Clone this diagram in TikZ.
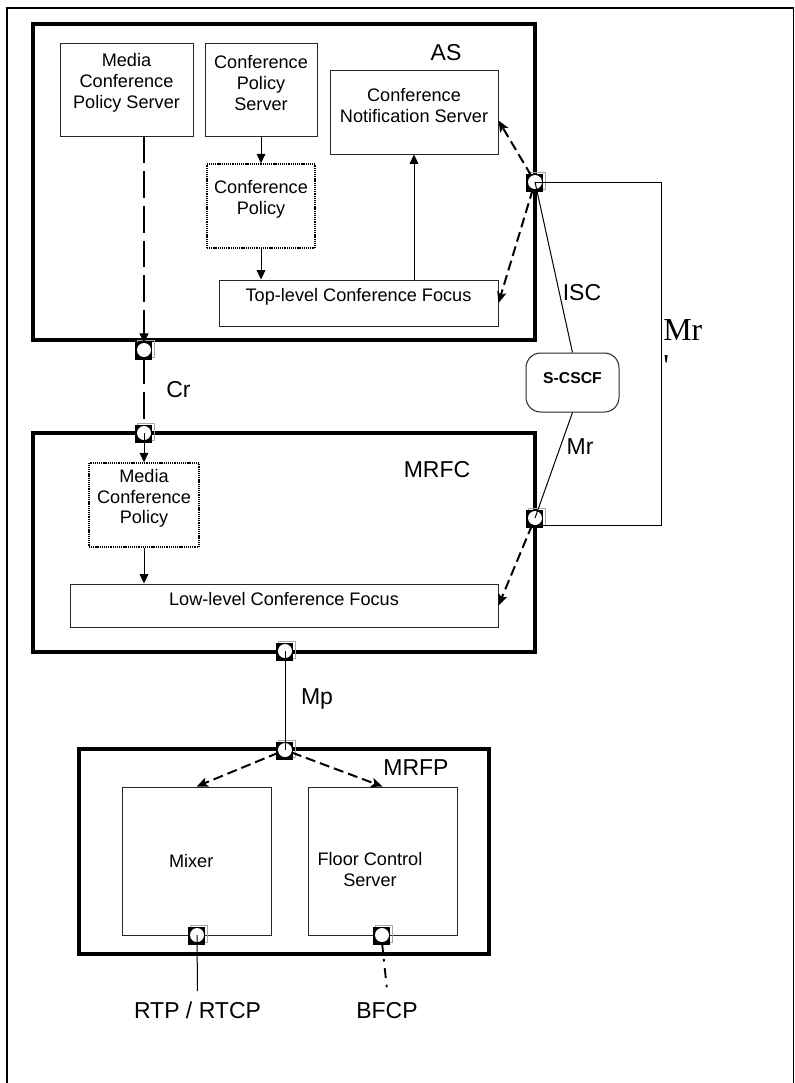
\documentclass[tikz,border=0pt]{standalone}
\usepackage{fontspec}
\setmainfont{Liberation Sans}
\newfontfamily\timesf{Liberation Serif}
\usetikzlibrary{arrows.meta,fit,calc}
\newcommand\boxfont{\fontsize{13.6}{15.6}\selectfont}
\newcommand\lblfont{\fontsize{17.25}{20}\selectfont}
\tikzset{
  box/.style={draw=black!85, line width=0.75pt, inner sep=0pt, font=\boxfont, align=center},
  dotbox/.style={box, draw=black, line width=1.2pt, dash pattern=on 0.8pt off 0.6pt},
  bigbox/.style={draw=black, line width=2.5pt, inner sep=0pt},
  lbl/.style={font=\lblfont, inner sep=0pt, anchor=base},
  port/.style={circle, fill=white, inner sep=0pt, minimum size=10.5pt},
  thinline/.style={line width=0.75pt},
  arr/.style={thinline, -{Triangle[length=7pt,width=6.5pt]}},
  dasharr/.style={line width=1.5pt, dash pattern=on 7.5pt off 3.75pt, -{Stealth[length=8.5pt,width=7pt,inset=2pt]}},
  longdash/.style={line width=1.8pt, dash pattern=on 20pt off 6pt},
  dashdotline/.style={line width=1.4pt, dash pattern=on 7.5pt off 5pt on 2pt off 5pt},
}
\newcommand\portg[2]{%
  \coordinate (#1-c) at (#2);
  \draw[gray!70, line width=0.6pt] ($(#1-c)+(-7,-10)$) rectangle ($(#1-c)+(10,7)$);
  \fill[black] ($(#1-c)+(-9.5,-8)$) rectangle ($(#1-c)+(8,9.5)$);
  \node[port] (#1) at (#1-c) {};
}
\begin{document}
\begin{tikzpicture}[x=0.75pt,y=-0.75pt]
\clip (0,0) rectangle (795,1083);
\fill[white] (0,0) rectangle (795,1083);
\draw[line width=1pt] (7,8) rectangle (793.5,1100);

% AS
\node[bigbox, fit={(33,24) (535,340)}] (as) {};
\node[lbl] (aslbl) at (446,60) {AS};
\node[box, fit={(60,43) (193,136)}] (mcps) {Media\\Conference\\Policy Server};
\node[box, fit={(205,43) (317,136)}] (cps) {Conference\\Policy\\Server};
\node[box, fit={(330,70) (498,154)}] (cns) {Conference\\Notification Server};
\node[dotbox, fit={(207,164) (315,248)}] (cp) {Conference\\Policy};
\node[box, fit={(219,280) (498,326)}] (tlcf) {Top-level Conference Focus};

% MRFC
\node[bigbox, fit={(33,433) (535,652)}] (mrfc) {};
\node[lbl] (mrfclbl) at (437,477) {MRFC};
\node[dotbox, fit={(89,463) (199,547)}] (mcp) {Media\\Conference\\Policy};
\node[box, fit={(70,584) (498,627)}] (llcf) {Low-level Conference Focus};

% S-CSCF
\node[box, rounded corners=11pt, fit={(526,353) (619,412)}, font=\fontsize{11.8}{13}\selectfont\bfseries] (scscf) {\raisebox{-2pt}{S-CSCF}};

% MRFP
\node[bigbox, fit={(79,749) (489,954)}] (mrfp) {};
\node[lbl] (mrfplbl) at (416,775) {MRFP};
\node[box, fit={(122,787) (271,935)}, label={[font=\boxfont, xshift=-4pt]center:Mixer}] (mixer) {};
\node[box, fit={(308,787) (457,935)}, label={[font=\boxfont, align=center, xshift=-9.4pt, yshift=-6.4pt]center:{Floor Control\\Server}}] (fcs) {};

% ports
\portg{pAS}{535,182}
\portg{pCrA}{144,350}
\portg{pCrB}{144,433}
\portg{pMRFCr}{535,518}
\portg{pMRFCb}{285,651}
\portg{pMRFP}{285,750}
\portg{pMix}{197,935}
\portg{pFCS}{382,935}

% labels
\node[lbl] (cr) at (178.5,397) {Cr};
\node[lbl] (mp) at (317,704) {Mp};
\node[lbl] (isc) at (582,300) {ISC};
\node[lbl] (mr) at (580,454) {Mr};
\node[lbl] (rtp) at (197.5,1018) {RTP / RTCP};
\node[lbl] (bfcp) at (387,1018) {BFCP};
\node[font=\timesf\fontsize{24}{27}\selectfont, align=left, inner sep=0pt, anchor=north west] (mrp) at (663,319) {Mr\\\char"27};

% connectors
\draw[arr] (cps.south) -- (cp.north);
\draw[arr] (cp.south) -- (cp.south |- tlcf.north);
\draw[arr] (cns.south |- tlcf.north) -- (cns.south);
\draw[longdash, -{Triangle[length=7pt,width=6.5pt]}] (mcps.south -| pCrA) -- (pCrA.north);
\draw[longdash] (pCrA.south) -- (pCrB.north);
\draw[arr] (pCrB.center) -- (mcp.north);
\draw[arr] (mcp.south) -- (mcp.south |- llcf.north);
\draw[dasharr] (pAS) -- ($(cns.north east)!0.6!(cns.south east)$);
\draw[dasharr] (pAS) -- (tlcf.east);
\draw[thinline] (pAS.center) -- (scscf.north);
\draw[thinline] (scscf.south) -- (pMRFCr.center);
\coordinate (mrx) at (661,0);
\draw[thinline] (pAS.center) -- (pAS.center -| mrx) |- (pMRFCr.south);
\draw[dasharr] (pMRFCr) -- (llcf.east);
\draw[thinline] (pMRFCb.center) -- (pMRFP.center);
\draw[dasharr] (pMRFP) -- (mixer.north);
\draw[dasharr] (pMRFP) -- (fcs.north);
\draw[thinline] (pMix.center) -- ([yshift=7.5pt]rtp.north);
\draw[dashdotline] (pFCS.south) -- ([yshift=9pt]bfcp.north);
\end{tikzpicture}
\end{document}
